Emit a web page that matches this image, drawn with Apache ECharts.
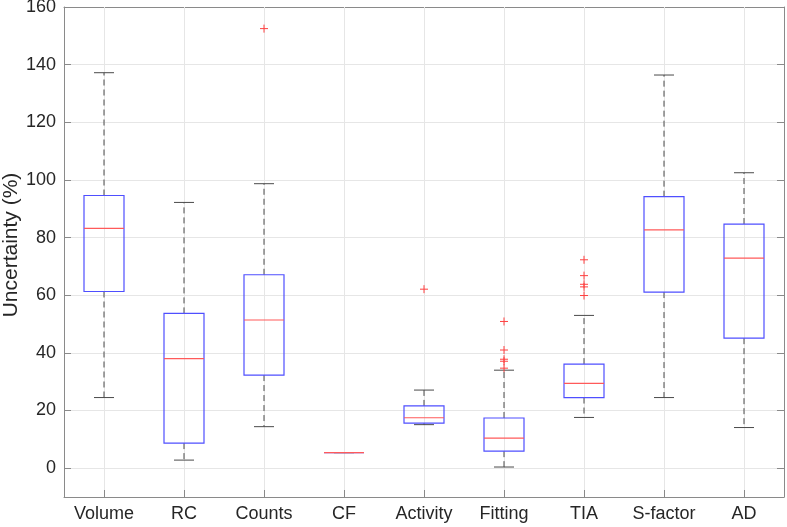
<!DOCTYPE html>
<html>
<head>
<meta charset="utf-8">
<script src="https://cdn.jsdelivr.net/npm/echarts@6/dist/echarts.min.js"></script>
<style>
html,body{margin:0;padding:0;background:#fff;}
#chart{width:787px;height:527px;}
</style>
</head>
<body>
<div id="chart"></div>
<script>
const categories = ['Volume', 'RC', 'Counts', 'CF', 'Activity', 'Fitting', 'TIA', 'S-factor', 'AD'];
const lowerWhisker = [24.5, 2.8, 14.4, 5.4, 15.1, 0.4, 17.6, 24.5, 14.1];
const q1Values = [61.3, 8.7, 32.3, 5.4, 15.6, 5.9, 24.5, 61.1, 45.1];
const medianValues = [83.2, 38.0, 51.4, 5.4, 17.5, 10.4, 29.4, 82.7, 72.9];
const q3Values = [94.6, 53.7, 67.1, 5.4, 21.6, 17.4, 36.1, 94.2, 84.7];
const upperWhisker = [137.2, 92.2, 98.7, 5.4, 27.1, 34.0, 53.0, 136.4, 102.5];
const outlierCategory = ['Counts', 'Activity', 'Fitting', 'Fitting', 'Fitting', 'Fitting', 'Fitting', 'TIA', 'TIA', 'TIA', 'TIA', 'TIA'];
const outlierValue = [152.5, 62.1, 50.9, 41.0, 37.8, 37.1, 34.7, 72.3, 66.8, 63.8, 62.9, 59.9];
const yTicks = [0, 20, 40, 60, 80, 100, 120, 140, 160];

const boxData = categories.map((c, i) => [i, lowerWhisker[i], q1Values[i], medianValues[i], q3Values[i], upperWhisker[i]]);
const outlierData = outlierCategory.map((c, i) => [categories.indexOf(c), outlierValue[i]]);

const textColor = '#262626';
const axisColor = '#8a8a8a';
const gridColor = '#e6e6e6';
const fontFamily = '"Liberation Sans", Arial, Helvetica, sans-serif';

function renderBox(params, api) {
  const x = api.value(0);
  const band = api.size([1, 0])[0];
  const hw = band * 0.25;
  const cw = band * 0.125;
  const pLW = api.coord([x, api.value(1)]);
  const pQ1 = api.coord([x, api.value(2)]);
  const pMed = api.coord([x, api.value(3)]);
  const pQ3 = api.coord([x, api.value(4)]);
  const pUW = api.coord([x, api.value(5)]);
  const cx = pMed[0];
  const whiskerStyle = { stroke: '#4a4a4a', lineWidth: 1, lineDash: [6, 4] };
  const capStyle = { stroke: '#4a4a4a', lineWidth: 1 };
  return {
    type: 'group',
    children: [
      { type: 'line', shape: { x1: cx, y1: pQ3[1], x2: cx, y2: pUW[1] }, style: whiskerStyle },
      { type: 'line', shape: { x1: cx, y1: pQ1[1], x2: cx, y2: pLW[1] }, style: whiskerStyle },
      { type: 'line', shape: { x1: cx - cw, y1: pUW[1], x2: cx + cw, y2: pUW[1] }, style: capStyle },
      { type: 'line', shape: { x1: cx - cw, y1: pLW[1], x2: cx + cw, y2: pLW[1] }, style: capStyle },
      { type: 'rect', shape: { x: cx - hw, y: pQ3[1], width: hw * 2, height: pQ1[1] - pQ3[1] },
        style: { fill: 'none', stroke: '#4f4fff', lineWidth: 1.2 } },
      { type: 'line', shape: { x1: cx - hw, y1: pMed[1], x2: cx + hw, y2: pMed[1] },
        style: { stroke: '#ff5a5a', lineWidth: 1.2 } }
    ]
  };
}

function renderOutlier(params, api) {
  const p = api.coord([api.value(0), api.value(1)]);
  const s = 4;
  const st = { stroke: '#ff4040', lineWidth: 1 };
  return {
    type: 'group',
    children: [
      { type: 'line', shape: { x1: p[0] - s, y1: p[1], x2: p[0] + s, y2: p[1] }, style: st },
      { type: 'line', shape: { x1: p[0], y1: p[1] - s, x2: p[0], y2: p[1] + s }, style: st }
    ]
  };
}

const chart = echarts.init(document.getElementById('chart'), null, { renderer: 'canvas' });
chart.setOption({
  animation: false,
  backgroundColor: '#ffffff',
  grid: { left: 64, right: 3, top: 7, bottom: 30, containLabel: false, outerBoundsMode: 'none' },
  xAxis: [
    {
      type: 'category', data: categories, position: 'bottom', boundaryGap: true,
      axisLine: { show: true, onZero: false, lineStyle: { color: axisColor, width: 1 } },
      axisTick: { show: true, inside: true, length: 7, alignWithLabel: true, lineStyle: { color: axisColor } },
      axisLabel: { color: textColor, fontSize: 18, fontFamily: fontFamily, margin: 8, interval: 0 },
      splitLine: { show: true, alignWithLabel: true, interval: 0, lineStyle: { color: gridColor, width: 1 } },
      z: 1
    },
    {
      type: 'category', data: categories, position: 'top', boundaryGap: true,
      axisLine: { show: true, onZero: false, lineStyle: { color: axisColor, width: 1 } },
      axisTick: { show: true, inside: true, length: 7, alignWithLabel: true, lineStyle: { color: axisColor } },
      axisLabel: { show: false },
      splitLine: { show: false }
    }
  ],
  yAxis: [
    {
      type: 'value', min: -10, max: 160, splitNumber: 8, position: 'left',
      name: 'Uncertainty (%)', nameLocation: 'middle', nameGap: 42, nameRotate: 90,
      nameMoveOverlap: false,
      nameTextStyle: { color: textColor, fontSize: 21, fontFamily: fontFamily, padding: [0, 0, 0, 14] },
      axisLine: { show: true, onZero: false, lineStyle: { color: axisColor, width: 1 } },
      axisTick: { show: true, inside: true, length: 7, lineStyle: { color: axisColor } },
      axisLabel: {
        color: textColor, fontSize: 18, fontFamily: fontFamily, margin: 8,
        showMinLabel: false,
        formatter: v => (yTicks.indexOf(v) >= 0 ? String(v) : '')
      },
      splitLine: { show: true, lineStyle: { color: gridColor, width: 1 } }
    },
    {
      type: 'value', min: -10, max: 160, splitNumber: 8, position: 'right',
      axisLine: { show: true, onZero: false, lineStyle: { color: axisColor, width: 1 } },
      axisTick: { show: true, inside: true, length: 7, lineStyle: { color: axisColor } },
      axisLabel: { show: false },
      splitLine: { show: false }
    }
  ],
  series: [
    { type: 'custom', xAxisIndex: 0, yAxisIndex: 0, renderItem: renderBox, data: boxData, z: 3,
      encode: { x: 0, y: [1, 2, 3, 4, 5] } },
    { type: 'custom', xAxisIndex: 0, yAxisIndex: 0, renderItem: renderOutlier, data: outlierData, z: 4,
      encode: { x: 0, y: 1 } }
  ]
});
</script>
</body>
</html>
